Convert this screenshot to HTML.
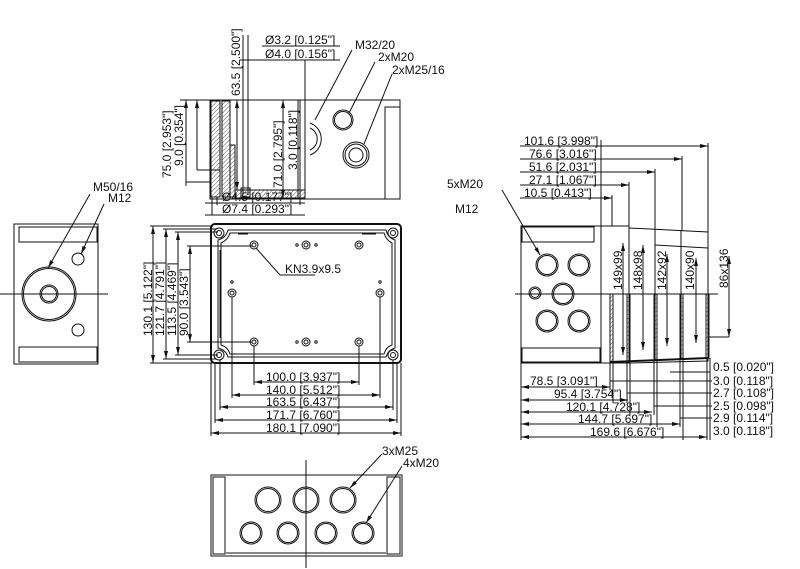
<!DOCTYPE html>
<html><head><meta charset="utf-8"><style>
html,body{margin:0;padding:0;background:#fff;}
svg{display:block;}
text{font-family:"Liberation Sans",sans-serif;font-size:12px;fill:#111;}
</style></head><body>
<svg width="800" height="569" viewBox="0 0 800 569" xmlns="http://www.w3.org/2000/svg">
<defs>
<pattern id="h" width="3" height="3" patternUnits="userSpaceOnUse" patternTransform="rotate(45)"><line x1="0" y1="0" x2="0" y2="3" stroke="#333" stroke-width="0.8"/></pattern>
<marker id="a" viewBox="0 0 8 4" refX="8" refY="2" markerWidth="8" markerHeight="4" orient="auto-start-reverse"><path d="M0,0 L8,2 L0,4z" fill="#111"/></marker>
</defs>
<g stroke="#111" fill="none" stroke-width="1">

<!-- ===== TOP SECTION VIEW ===== -->
<rect x="210" y="100" width="190" height="99"/>
<rect x="211" y="101" width="9" height="96" fill="url(#h)"/>
<rect x="222" y="101" width="8" height="96" fill="url(#h)"/>
<rect x="230" y="145" width="5" height="52" fill="url(#h)"/>
<rect x="235" y="190" width="70" height="8" fill="url(#h)"/>
<line x1="243" y1="35" x2="243" y2="195"/>
<line x1="248" y1="35" x2="248" y2="195"/>
<rect x="241" y="188" width="9" height="9"/>
<line x1="300" y1="100" x2="300" y2="198"/>
<line x1="305" y1="100" x2="305" y2="198"/>
<rect x="385" y="107" width="15" height="92"/>
<path d="M310,123 A17,17 0 0 1 310,155"/>
<path d="M310,128 A12,12 0 0 1 310,150"/>
<circle cx="343" cy="120" r="10"/><circle cx="343" cy="120" r="8.5"/>
<circle cx="356" cy="155" r="13"/><circle cx="356" cy="155" r="11"/><circle cx="356" cy="155" r="7"/>
<line x1="305" y1="60" x2="305" y2="100"/>
<line x1="352" y1="50" x2="315" y2="120"/>
<line x1="375" y1="62" x2="349" y2="113"/>
<line x1="392" y1="74" x2="364" y2="144"/>
<line x1="186" y1="100" x2="186" y2="186" marker-start="url(#a)"/>
<line x1="186" y1="182" x2="210" y2="182"/>
<line x1="180" y1="100" x2="210" y2="100"/>
<line x1="197" y1="100" x2="197" y2="170" marker-start="url(#a)"/>
<line x1="197" y1="170" x2="220" y2="170"/>
<line x1="237" y1="100" x2="237" y2="190" marker-start="url(#a)" marker-end="url(#a)"/>
<line x1="283" y1="100" x2="283" y2="198" marker-start="url(#a)" marker-end="url(#a)"/>
<line x1="298" y1="100" x2="298" y2="198"/>
<line x1="262" y1="46" x2="340" y2="46"/>
<line x1="240" y1="60" x2="340" y2="60"/>
<line x1="205" y1="203" x2="305" y2="203"/>
<line x1="205" y1="215" x2="305" y2="215"/>
<line x1="212" y1="197" x2="212" y2="215"/><line x1="217" y1="197" x2="217" y2="205"/>
<line x1="300" y1="197" x2="300" y2="205"/>
</g>
<g>
<text x="265" y="44">Ø3.2 [0.125"]</text>
<text x="265" y="58">Ø4.0 [0.156"]</text>
<text x="355" y="49">M32/20</text>
<text x="378" y="61">2xM20</text>
<text x="392" y="74">2xM25/16</text>
<text x="222" y="201">Ø4.5 [0.177"]</text>
<text x="222" y="213">Ø7.4 [0.293"]</text>
<text transform="translate(240,96) rotate(-90)">63.5 [2.500"]</text>
<text transform="translate(171,178) rotate(-90)">75.0 [2.953"]</text>
<text transform="translate(183,166) rotate(-90)">9.0 [0.354"]</text>
<text transform="translate(282,188) rotate(-90)">71.0 [2.795"]</text>
<text transform="translate(297,170) rotate(-90)">3.0 [0.118"]</text>
</g>

<!-- ===== LEFT END VIEW ===== -->
<g stroke="#111" fill="none" stroke-width="1">
<rect x="14" y="224" width="84" height="140"/>
<rect x="19" y="227" width="78" height="15"/>
<rect x="19" y="347" width="78" height="15"/>
<circle cx="49" cy="294" r="27"/><circle cx="49" cy="294" r="25.5"/>
<circle cx="49" cy="294" r="9"/><circle cx="49" cy="294" r="7.5"/>
<circle cx="78" cy="259" r="6"/><circle cx="78" cy="330" r="6"/>
<line x1="0" y1="294" x2="108" y2="294"/>
<line x1="90" y1="194" x2="48" y2="268" marker-end="url(#a)"/>
<line x1="104" y1="204" x2="81" y2="254" marker-end="url(#a)"/>
</g>
<text x="93" y="191">M50/16</text>
<text x="108" y="202">M12</text>

<!-- ===== FRONT VIEW ===== -->
<g stroke="#111" fill="none" stroke-width="1">
<rect x="211" y="224" width="190" height="139" rx="4" stroke-width="2"/>
<path d="M228,230 H386 Q388,238 395,240 V348 Q388,350 386,357 H228 Q226,350 218,348 V240 Q226,238 228,230Z"/>
<path d="M230,233 H384 Q386,240 392,243 V345 Q386,347 384,354 H230 Q228,347 221,345 V243 Q228,240 230,233Z"/>
<circle cx="219" cy="233" r="5"/><circle cx="219" cy="233" r="2.5"/>
<circle cx="393" cy="233" r="5"/><circle cx="393" cy="233" r="2.5"/>
<circle cx="219" cy="355" r="5"/><circle cx="219" cy="355" r="2.5"/>
<circle cx="393" cy="355" r="5"/><circle cx="393" cy="355" r="2.5"/>
<g>
<circle cx="254" cy="245" r="4"/><circle cx="254" cy="245" r="2"/>
<circle cx="359" cy="245" r="4"/><circle cx="359" cy="245" r="2"/>
<circle cx="254" cy="342" r="4"/><circle cx="254" cy="342" r="2"/>
<circle cx="359" cy="342" r="4"/><circle cx="359" cy="342" r="2"/>
<circle cx="306" cy="245" r="4"/><circle cx="306" cy="245" r="2"/>
<circle cx="306" cy="342" r="4"/><circle cx="306" cy="342" r="2"/>
<circle cx="232" cy="293" r="4"/><circle cx="232" cy="293" r="2"/>
<circle cx="380" cy="293" r="4"/><circle cx="380" cy="293" r="2"/>
<circle cx="297" cy="245" r="1.2"/><circle cx="316" cy="245" r="1.2"/>
<circle cx="297" cy="342" r="1.2"/><circle cx="316" cy="342" r="1.2"/>
<circle cx="232" cy="282" r="1.2"/><circle cx="380" cy="282" r="1.2"/>
</g>
<line x1="220" y1="250" x2="220" y2="338"/>
<line x1="238" y1="234" x2="248" y2="234"/><line x1="362" y1="234" x2="376" y2="234"/>
<line x1="256" y1="248" x2="280" y2="275"/><line x1="280" y1="275" x2="315" y2="275"/>
<line x1="153" y1="226" x2="153" y2="363" marker-start="url(#a)" marker-end="url(#a)"/>
<line x1="150" y1="226" x2="213" y2="226"/><line x1="150" y1="363" x2="213" y2="363"/>
<line x1="166" y1="229" x2="166" y2="359" marker-start="url(#a)" marker-end="url(#a)"/>
<line x1="163" y1="229" x2="216" y2="229"/><line x1="163" y1="359" x2="216" y2="359"/>
<line x1="178" y1="232" x2="178" y2="355" marker-start="url(#a)" marker-end="url(#a)"/>
<line x1="175" y1="232" x2="218" y2="232"/><line x1="175" y1="355" x2="218" y2="355"/>
<line x1="190" y1="246" x2="190" y2="342" marker-start="url(#a)" marker-end="url(#a)"/>
<line x1="187" y1="246" x2="252" y2="246"/><line x1="187" y1="342" x2="252" y2="342"/>
<line x1="254" y1="346" x2="254" y2="385"/><line x1="359" y1="346" x2="359" y2="385"/>
<line x1="254" y1="382" x2="359" y2="382" marker-start="url(#a)" marker-end="url(#a)"/>
<line x1="232" y1="297" x2="232" y2="398"/><line x1="380" y1="297" x2="380" y2="398"/>
<line x1="232" y1="395" x2="380" y2="395" marker-start="url(#a)" marker-end="url(#a)"/>
<line x1="220" y1="360" x2="220" y2="410"/><line x1="393" y1="360" x2="393" y2="410"/>
<line x1="220" y1="407" x2="393" y2="407" marker-start="url(#a)" marker-end="url(#a)"/>
<line x1="215" y1="363" x2="215" y2="423"/><line x1="397" y1="363" x2="397" y2="423"/>
<line x1="215" y1="420" x2="397" y2="420" marker-start="url(#a)" marker-end="url(#a)"/>
<line x1="211" y1="363" x2="211" y2="436"/><line x1="401" y1="363" x2="401" y2="436"/>
<line x1="211" y1="433" x2="401" y2="433" marker-start="url(#a)" marker-end="url(#a)"/>
</g>
<g>
<text x="285" y="273">KN3.9x9.5</text>
<text x="266" y="381">100.0 [3.937"]</text>
<text x="266" y="394">140.0 [5.512"]</text>
<text x="266" y="406">163.5 [6.437"]</text>
<text x="266" y="419">171.7 [6.760"]</text>
<text x="266" y="432">180.1 [7.090"]</text>
<text transform="translate(152,336) rotate(-90)">130.1 [5.122"]</text>
<text transform="translate(164,336) rotate(-90)">121.7 [4.791"]</text>
<text transform="translate(176,336) rotate(-90)">113.5 [4.469"]</text>
<text transform="translate(188,336) rotate(-90)">90.0 [3.543"]</text>
</g>

<!-- ===== BOTTOM VIEW ===== -->
<g stroke="#111" fill="none" stroke-width="1">
<rect x="211" y="475" width="191" height="81"/>
<rect x="213" y="477" width="12" height="77"/>
<rect x="387" y="477" width="13" height="77"/>
<line x1="226" y1="553" x2="386" y2="553"/>
<line x1="306" y1="460" x2="306" y2="568"/>
<circle cx="268" cy="500" r="13"/><circle cx="268" cy="500" r="11.5"/>
<circle cx="306" cy="500" r="13"/><circle cx="306" cy="500" r="11.5"/>
<circle cx="343" cy="500" r="13"/><circle cx="343" cy="500" r="11.5"/>
<circle cx="251" cy="533" r="11"/><circle cx="251" cy="533" r="9.5"/>
<circle cx="288" cy="533" r="11"/><circle cx="288" cy="533" r="9.5"/>
<circle cx="326" cy="533" r="11"/><circle cx="326" cy="533" r="9.5"/>
<circle cx="363" cy="533" r="11"/><circle cx="363" cy="533" r="9.5"/>
<line x1="382" y1="454" x2="350" y2="488" marker-end="url(#a)"/>
<line x1="402" y1="466" x2="366" y2="523" marker-end="url(#a)"/>
</g>
<text x="382" y="455">3xM25</text>
<text x="403" y="467">4xM20</text>

<!-- ===== RIGHT SIDE VIEW ===== -->
<g stroke="#111" fill="none" stroke-width="1">
<rect x="521" y="226" width="80" height="137"/>
<rect x="522" y="227" width="72" height="15"/>
<rect x="522" y="348" width="78" height="14"/>
<rect x="601" y="226" width="28" height="137"/>
<path d="M629,228 L708,232 V361 L629,363"/>
<line x1="655" y1="229" x2="655" y2="360"/>
<line x1="681" y1="230" x2="681" y2="359"/>
<line x1="655" y1="245" x2="708" y2="248"/>
<rect x="610" y="294" width="3" height="68" fill="url(#h)"/>
<rect x="627" y="294" width="3" height="68" fill="url(#h)"/>
<rect x="654" y="294" width="3" height="66" fill="url(#h)"/>
<rect x="680" y="294" width="3" height="65" fill="url(#h)"/>
<rect x="706" y="294" width="3" height="64" fill="url(#h)"/>
<path d="M610,362 L708,358" stroke-width="2"/>
<line x1="515" y1="294" x2="718" y2="294"/>
<circle cx="547" cy="265" r="11"/><circle cx="547" cy="265" r="9.5"/>
<circle cx="579" cy="265" r="11"/><circle cx="579" cy="265" r="9.5"/>
<circle cx="563" cy="294" r="11"/><circle cx="563" cy="294" r="9.5"/>
<circle cx="547" cy="321" r="11"/><circle cx="547" cy="321" r="9.5"/>
<circle cx="579" cy="321" r="11"/><circle cx="579" cy="321" r="9.5"/>
<circle cx="535" cy="293" r="6"/><circle cx="535" cy="293" r="4.5"/>
<line x1="502" y1="190" x2="540" y2="255" marker-end="url(#a)"/>
<line x1="520" y1="146" x2="708" y2="146" marker-end="url(#a)"/>
<line x1="520" y1="159" x2="682" y2="159" marker-end="url(#a)"/>
<line x1="520" y1="172" x2="655" y2="172" marker-end="url(#a)"/>
<line x1="520" y1="185" x2="629" y2="185" marker-end="url(#a)"/>
<line x1="520" y1="198" x2="612" y2="198" marker-end="url(#a)"/>
<line x1="601" y1="140" x2="601" y2="226"/>
<line x1="708" y1="143" x2="708" y2="232"/>
<line x1="682" y1="156" x2="682" y2="230"/>
<line x1="655" y1="169" x2="655" y2="229"/>
<line x1="629" y1="182" x2="629" y2="228"/>
<line x1="612" y1="195" x2="612" y2="226"/>
<line x1="623" y1="243" x2="623" y2="355" marker-start="url(#a)" marker-end="url(#a)"/>
<line x1="643" y1="245" x2="643" y2="350" marker-start="url(#a)" marker-end="url(#a)"/>
<line x1="667" y1="254" x2="667" y2="346" marker-start="url(#a)" marker-end="url(#a)"/>
<line x1="696" y1="258" x2="696" y2="343" marker-start="url(#a)" marker-end="url(#a)"/>
<line x1="729" y1="256" x2="729" y2="337" marker-start="url(#a)" marker-end="url(#a)"/>
<line x1="709" y1="337" x2="729" y2="337"/>
<line x1="521" y1="363" x2="521" y2="440"/>
<line x1="521" y1="387" x2="610" y2="387" marker-start="url(#a)" marker-end="url(#a)"/>
<line x1="521" y1="400" x2="628" y2="400" marker-start="url(#a)" marker-end="url(#a)"/>
<line x1="521" y1="412" x2="652" y2="412" marker-start="url(#a)" marker-end="url(#a)"/>
<line x1="521" y1="424" x2="680" y2="424" marker-start="url(#a)" marker-end="url(#a)"/>
<line x1="521" y1="437" x2="707" y2="437" marker-start="url(#a)" marker-end="url(#a)"/>
<line x1="610" y1="362" x2="610" y2="390"/><line x1="613" y1="362" x2="613" y2="403"/>
<line x1="627" y1="362" x2="627" y2="403"/><line x1="630" y1="362" x2="630" y2="415"/>
<line x1="654" y1="360" x2="654" y2="415"/><line x1="657" y1="360" x2="657" y2="427"/>
<line x1="680" y1="359" x2="680" y2="427"/><line x1="683" y1="359" x2="683" y2="440"/>
<line x1="707" y1="358" x2="707" y2="440"/><line x1="710" y1="358" x2="710" y2="440"/>
<line x1="670" y1="372" x2="710" y2="372"/>
<line x1="610" y1="381" x2="712" y2="381"/>
<line x1="627" y1="393" x2="712" y2="393"/>
<line x1="654" y1="406" x2="712" y2="406"/>
<line x1="680" y1="418" x2="712" y2="418"/>
</g>
<g>
<text x="447" y="188">5xM20</text>
<text x="455" y="213">M12</text>
<text x="524" y="145">101.6 [3.998"]</text>
<text x="529" y="158">76.6 [3.016"]</text>
<text x="529" y="171">51.6 [2.031"]</text>
<text x="529" y="184">27.1 [1.067"]</text>
<text x="524" y="197">10.5 [0.413"]</text>
<text x="530" y="385">78.5 [3.091"]</text>
<text x="554" y="398">95.4 [3.754"]</text>
<text x="566" y="411">120.1 [4.728"]</text>
<text x="578" y="423">144.7 [5.697"]</text>
<text x="590" y="436">169.6 [6.676"]</text>
<text x="713" y="371">0.5 [0.020"]</text>
<text x="713" y="385">3.0 [0.118"]</text>
<text x="713" y="397">2.7 [0.108"]</text>
<text x="713" y="410">2.5 [0.098"]</text>
<text x="713" y="422">2.9 [0.114"]</text>
<text x="713" y="435">3.0 [0.118"]</text>
<text transform="translate(622,290) rotate(-90)">149x99</text>
<text transform="translate(642,290) rotate(-90)">148x98</text>
<text transform="translate(666,290) rotate(-90)">142x92</text>
<text transform="translate(694,290) rotate(-90)">140x90</text>
<text transform="translate(728,288) rotate(-90)">86x136</text>
</g>
</svg>
</body></html>
